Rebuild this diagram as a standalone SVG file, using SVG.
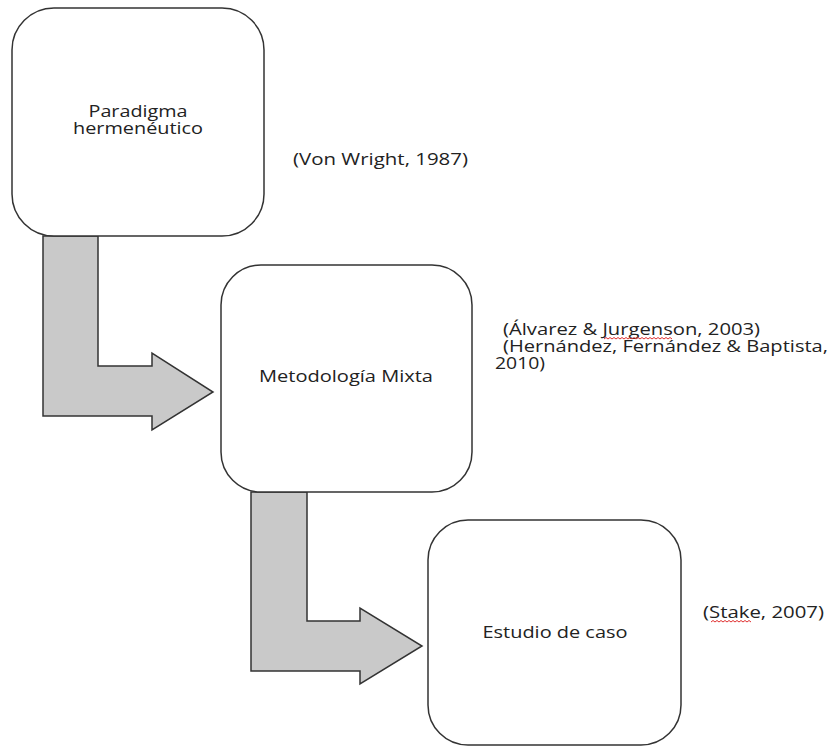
<svg xmlns="http://www.w3.org/2000/svg" width="831" height="746" viewBox="0 0 831 746">
<style>
.box{fill:#fff;stroke:#333;stroke-width:1.5}
.arr{fill:#c9c9c9;stroke:#333;stroke-width:1.5;stroke-linejoin:miter}
text{font-family:"Open Sans","Noto Sans","DejaVu Sans",sans-serif;font-size:15.5px;fill:#222}
.c{text-anchor:middle}
.sq{fill:none;stroke:#e03030;stroke-width:1}
</style>
<rect width="831" height="746" fill="#fff"/>
<g id="connectors">
<path class="arr" d="M43,236 L98,236 L98,366 L152,366 L152,353 L213,392 L152,430 L152,416 L43,416 Z"/>
<path class="arr" d="M251,492 L307,492 L307,621 L360,621 L360,608 L422,646 L360,684 L360,671 L251,671 Z"/>
</g>
<g id="node1">
<rect class="box" x="12" y="8" width="252" height="228" rx="42" ry="42"/>
<text class="c" x="138" y="117" textLength="99" lengthAdjust="spacingAndGlyphs">Paradigma</text>
<text class="c" x="138" y="134" textLength="130" lengthAdjust="spacingAndGlyphs">hermenéutico</text>
</g>
<g id="node2">
<rect class="box" x="221" y="265" width="251" height="227" rx="40" ry="40"/>
<text class="c" x="346" y="382" textLength="174" lengthAdjust="spacingAndGlyphs">Metodología Mixta</text>
</g>
<g id="node3">
<rect class="box" x="428" y="520" width="253" height="225" rx="40" ry="40"/>
<text class="c" x="555" y="638" textLength="145" lengthAdjust="spacingAndGlyphs">Estudio de caso</text>
</g>
<g id="citations">
<text x="293" y="165" textLength="175" lengthAdjust="spacingAndGlyphs">(Von Wright, 1987)</text>
<text x="503" y="335" textLength="257" lengthAdjust="spacingAndGlyphs">(Álvarez &amp; Jurgenson, 2003)</text>
<text x="503" y="352" textLength="325" lengthAdjust="spacingAndGlyphs">(Hernández, Fernández &amp; Baptista,</text>
<text x="495" y="369" textLength="50" lengthAdjust="spacingAndGlyphs">2010)</text>
<text x="703" y="618" textLength="121" lengthAdjust="spacingAndGlyphs">(Stake, 2007)</text>
<path class="sq" d="M604,339 l2,-1.5 l2,1.5 l2,-1.5 l2,1.5 l2,-1.5 l2,1.5 l2,-1.5 l2,1.5 l2,-1.5 l2,1.5 l2,-1.5 l2,1.5 l2,-1.5 l2,1.5 l2,-1.5 l2,1.5 l2,-1.5 l2,1.5 l2,-1.5 l2,1.5 l2,-1.5 l2,1.5 l2,-1.5 l2,1.5 l2,-1.5 l2,1.5 l2,-1.5 l2,1.5 l2,-1.5 l2,1.5 l2,-1.5 l2,1.5 l2,-1.5 l2,1.5"/>
<path class="sq" d="M711,622 l2,-1.5 l2,1.5 l2,-1.5 l2,1.5 l2,-1.5 l2,1.5 l2,-1.5 l2,1.5 l2,-1.5 l2,1.5 l2,-1.5 l2,1.5 l2,-1.5 l2,1.5 l2,-1.5 l2,1.5 l2,-1.5 l2,1.5 l2,-1.5 l2,1.5"/>
</g>
</svg>
